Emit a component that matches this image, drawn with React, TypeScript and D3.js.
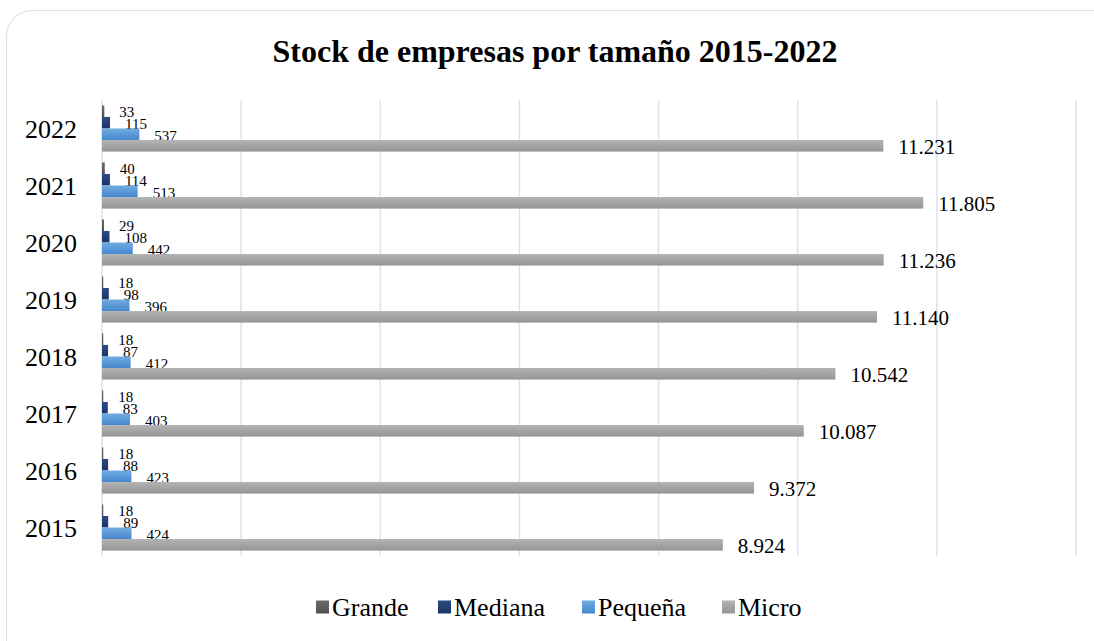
import React, { useEffect, useRef } from 'react'
import * as d3 from 'd3'

const years = ['2015', '2016', '2017', '2018', '2019', '2020', '2021', '2022']
const series = ['Grande', 'Mediana', 'Pequeña', 'Micro']
const grande = [18, 18, 18, 18, 18, 29, 40, 33]
const mediana = [89, 88, 83, 87, 98, 108, 114, 115]
const pequena = [424, 423, 403, 412, 396, 442, 513, 537]
const micro = [8924, 9372, 10087, 10542, 11140, 11236, 11805, 11231]
const xTicks = [0, 2000, 4000, 6000, 8000, 10000, 12000, 14000]

const colors = [
  ['#6b6b6b', '#505050'],
  ['#2c4a85', '#1c3464'],
  ['#71abe0', '#4688cf'],
  ['#b3b3b3', '#959595'],
]

const FONT = '"Liberation Serif", "Times New Roman", serif'

const App = () => {
  const ref = useRef<SVGSVGElement>(null)

  useEffect(() => {
    if (ref.current) makeSVG(ref.current)
  }, [])

  return (
    <div style={{ position: 'absolute', left: 0, top: 0 }}>
      <svg ref={ref} width={1094} height={641} style={{ display: 'block' }} />
    </div>
  )
}

const makeSVG = (node: SVGSVGElement) => {
  const width = 1094
  const height = 641
  const left = 102
  const right = 1076
  const top = 100
  const bottom = 556
  const values = [grande, mediana, pequena, micro]
  const fmt = d3.formatLocale({ decimal: ',', thousands: '.', grouping: [3], currency: ['', ''] }).format(',d')

  const svg = d3.select(node)
  svg.selectAll('*').remove()
  svg.style('font-family', FONT)

  // gradients
  const defs = svg.append('defs')
  colors.forEach((c, i) => {
    const g = defs
      .append('linearGradient')
      .attr('id', `grad${i}`)
      .attr('x1', 0)
      .attr('y1', 0)
      .attr('x2', 0)
      .attr('y2', 1)
    g.append('stop').attr('offset', '0%').attr('stop-color', c[0])
    g.append('stop').attr('offset', '100%').attr('stop-color', c[1])
  })

  // card
  svg
    .append('rect')
    .attr('x', 6.5)
    .attr('y', 10.5)
    .attr('width', width + 20)
    .attr('height', height + 20)
    .attr('rx', 26)
    .attr('fill', 'white')
    .attr('stroke', '#dfe2e6')
    .attr('stroke-width', 1.2)

  // title
  svg
    .append('text')
    .attr('x', 555)
    .attr('y', 62)
    .attr('text-anchor', 'middle')
    .attr('font-size', 32)
    .attr('font-weight', 'bold')
    .text('Stock de empresas por tamaño 2015-2022')

  // scales
  const xScale = d3.scaleLinear().domain([0, 14000]).range([left, right])
  const yScale = d3
    .scaleBand()
    .domain([...years].reverse())
    .range([top, bottom])
    .paddingInner(0.19)
    .paddingOuter(0.095)
  const inner = d3.scaleBand().domain(series).range([0, yScale.bandwidth()])

  // grid
  svg
    .append('g')
    .selectAll('line')
    .data(xTicks)
    .enter()
    .append('line')
    .attr('x1', (d) => xScale(d))
    .attr('x2', (d) => xScale(d))
    .attr('y1', top)
    .attr('y2', bottom)
    .attr('stroke', '#dde2ea')
    .attr('stroke-width', 1.5)

  // year labels
  svg
    .append('g')
    .selectAll('text')
    .data(years)
    .enter()
    .append('text')
    .attr('x', left - 25)
    .attr('y', (d) => (yScale(d) as number) + yScale.bandwidth() / 2)
    .attr('dy', '0.35em')
    .attr('text-anchor', 'end')
    .attr('font-size', 26)
    .text((d) => d)

  // bars
  series.forEach((s, si) => {
    const g = svg.append('g')
    const rows = years.map((y, i) => ({ year: y, value: values[si][i] }))
    g.selectAll('rect')
      .data(rows)
      .enter()
      .append('rect')
      .attr('x', xScale(0))
      .attr('y', (d) => (yScale(d.year) as number) + (inner(s) as number))
      .attr('width', (d) => xScale(d.value) - xScale(0))
      .attr('height', inner.bandwidth())
      .attr('fill', `url(#grad${si})`)

    g.selectAll('text')
      .data(rows)
      .enter()
      .append('text')
      .attr('x', (d) => xScale(d.value) + 15)
      .attr('y', (d) => (yScale(d.year) as number) + (inner(s) as number) + inner.bandwidth() / 2 + 1)
      .attr('dy', '0.35em')
      .attr('font-size', s === 'Micro' ? 21 : 15)
      .text((d) => fmt(d.value))
  })

  // legend
  const legendX = [316, 438, 582, 722]
  const legend = svg
    .append('g')
    .selectAll('g')
    .data(series)
    .enter()
    .append('g')
    .attr('transform', (d, i) => `translate(${legendX[i]}, 607)`)
  legend
    .append('rect')
    .attr('x', 0)
    .attr('y', -6.5)
    .attr('width', 13)
    .attr('height', 13)
    .attr('fill', (d, i) => `url(#grad${i})`)
  legend
    .append('text')
    .attr('x', 16)
    .attr('y', 0)
    .attr('dy', '0.35em')
    .attr('font-size', 26)
    .text((d) => d)
}

export default App
